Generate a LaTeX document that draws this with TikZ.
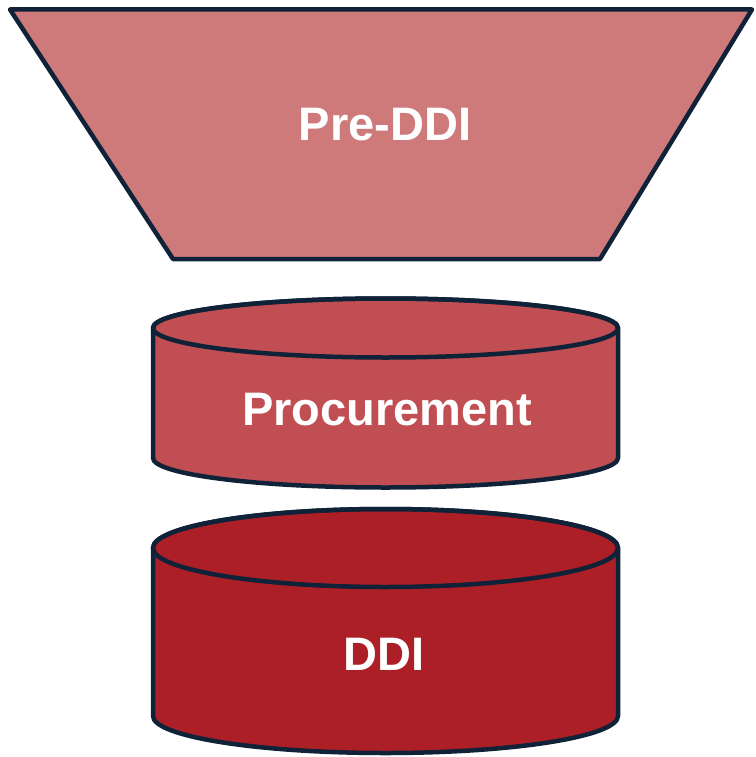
\documentclass[tikz,border=0pt]{standalone}
\usepackage{fontspec}
\setmainfont{Liberation Sans}
\definecolor{edge}{HTML}{0F2238}
\definecolor{fillA}{HTML}{CE7A7B}
\definecolor{fillB}{HTML}{C04E52}
\definecolor{fillC}{HTML}{AD1F27}
\tikzset{
  shapeline/.style={draw=edge, line width=4.5pt, line join=round},
  label/.style={text=white, font=\fontsize{47}{52}\selectfont\bfseries, anchor=base, inner sep=0pt}
}
\begin{document}
\begin{tikzpicture}[x=1pt,y=1pt]
\useasboundingbox (0,0) rectangle (755,-757);
% trapezoid
\path[shapeline, fill=fillA] (10,-9.5) -- (752,-9.5) -- (600,-259) -- (173,-259) -- cycle;
% cylinder 1
\path[shapeline, fill=fillB] (153,-328) -- (153,-458)
  arc[start angle=180, end angle=360, x radius=232.5pt, y radius=29.5pt]
  -- (618,-328)
  arc[start angle=0, end angle=180, x radius=232.5pt, y radius=29.5pt] -- cycle;
\path[shapeline] (385.5,-328) ellipse[x radius=232.5pt, y radius=29.5pt];
% cylinder 2
\path[shapeline, fill=fillC] (153,-548) -- (153,-716)
  arc[start angle=180, end angle=360, x radius=232.5pt, y radius=37pt]
  -- (618,-548)
  arc[start angle=0, end angle=180, x radius=232.5pt, y radius=39pt] -- cycle;
\path[shapeline] (385.5,-548) ellipse[x radius=232.5pt, y radius=39pt];
% labels
\node[label] (pre) at (385,-140) {Pre-DDI};
\node[label] (proc) at (387,-425) {Procurement};
\node[label] (ddi) at (384,-670) {DDI};
\end{tikzpicture}
\end{document}
